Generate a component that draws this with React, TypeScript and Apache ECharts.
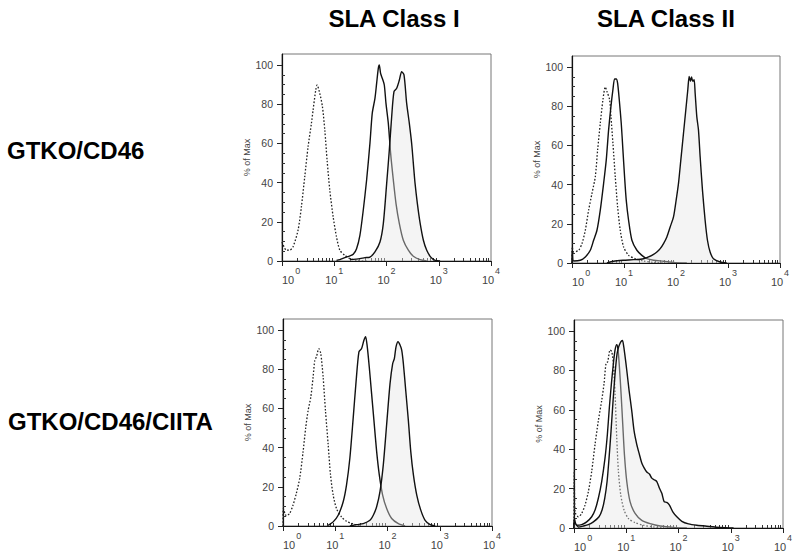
import React, { useEffect, useRef } from "react";
import * as echarts from "echarts";

// x values are decade exponents (log10 of fluorescence), y values are % of Max
const p1Dotted = [[0,9.7],[0.083,5.5],[0.147,5.5],[0.211,7.2],[0.307,15.7],[0.371,27.6],[0.435,42.9],[0.499,58.3],[0.563,70.2],[0.595,77.0],[0.646,87.2],[0.672,89.8],[0.723,85.5],[0.774,78.7],[0.819,66.8],[0.864,51.1],[0.915,36.1],[0.979,22.5],[1.043,12.3],[1.107,5.5],[1.203,2.9],[1.299,1.2],[1.427,0.3],[1.619,0]];
const p1Open = [[1.043,0.3],[1.107,0.7],[1.203,1.7],[1.299,2.6],[1.363,3.4],[1.427,6.3],[1.491,13.1],[1.555,25.9],[1.619,41.2],[1.683,60.0],[1.727,75.3],[1.779,83.0],[1.811,90.6],[1.843,98.3],[1.862,100],[1.887,95.7],[1.926,92.7],[1.958,89.8],[1.990,80.4],[2.035,70.2],[2.079,54.9],[2.131,41.2],[2.182,29.3],[2.246,19.1],[2.322,10.6],[2.418,5.5],[2.514,2.4],[2.642,0.7],[2.770,0]];
const p1Filled = [[1.299,0.7],[1.491,1.2],[1.587,1.7],[1.683,2.0],[1.779,4.6],[1.875,9.7],[1.939,19.1],[2.003,39.5],[2.054,56.6],[2.099,73.6],[2.143,86.4],[2.195,88.1],[2.246,92.3],[2.290,96.6],[2.335,94.9],[2.386,80.4],[2.437,70.2],[2.482,59.8],[2.514,49.7],[2.546,39.7],[2.591,29.3],[2.642,19.6],[2.706,10.6],[2.770,5.5],[2.847,2.0],[2.930,0.3],[3.026,0]];

const p2Dotted = [[0,0],[0.006,8.2],[0.032,5.6],[0.128,6.5],[0.192,9.9],[0.256,16.7],[0.320,27.0],[0.384,35.5],[0.448,44.0],[0.493,57.7],[0.544,71.3],[0.595,83.3],[0.640,89.8],[0.672,87.5],[0.723,83.3],[0.749,74.7],[0.787,61.1],[0.832,44.0],[0.877,28.7],[0.928,16.7],[0.992,8.2],[1.088,3.9],[1.216,2.2],[1.376,1.0],[1.568,0.3],[1.760,0]];
const p2Open = [[0,0],[0.006,6.5],[0.032,1.0],[0.160,1.4],[0.256,3.1],[0.352,6.5],[0.416,11.6],[0.480,16.7],[0.544,27.0],[0.608,40.6],[0.659,52.6],[0.704,67.9],[0.749,79.9],[0.787,88.4],[0.819,93.9],[0.851,93.9],[0.877,91.8],[0.909,83.3],[0.947,71.3],[0.979,57.7],[1.011,44.0],[1.043,32.1],[1.088,21.8],[1.152,11.6],[1.248,6.5],[1.344,3.9],[1.440,2.2],[1.568,1.4],[1.760,0.9],[1.952,0.3],[2.208,0]];
const p2Filled = [[0.672,0],[0.800,0.9],[0.992,1.4],[1.184,1.7],[1.376,2.2],[1.472,3.1],[1.568,4.4],[1.632,5.6],[1.696,7.3],[1.760,9.9],[1.824,13.3],[1.888,18.4],[1.952,23.5],[2.003,32.1],[2.048,40.6],[2.093,52.6],[2.144,66.2],[2.189,78.2],[2.227,88.4],[2.253,95.2],[2.278,92.7],[2.298,94.9],[2.323,92.7],[2.349,93.5],[2.368,86.7],[2.400,74.7],[2.432,67.9],[2.464,54.3],[2.509,37.2],[2.560,21.8],[2.605,11.6],[2.656,5.6],[2.720,2.2],[2.848,0.5],[2.976,0]];

const p3Dotted = [[0,0],[0.006,8.9],[0.064,5.2],[0.128,6.4],[0.192,10.7],[0.256,16.7],[0.320,24.4],[0.384,37.8],[0.435,50.2],[0.480,58.8],[0.531,65.6],[0.576,75.9],[0.608,84.5],[0.640,86.3],[0.685,90.5],[0.723,88.0],[0.768,75.9],[0.813,58.8],[0.864,41.6],[0.909,26.1],[0.960,15.8],[1.024,8.9],[1.120,4.6],[1.216,2.4],[1.344,1.0],[1.472,0]];
const p3Open = [[0.864,0.3],[0.960,2.1],[1.056,5.5],[1.152,12.4],[1.216,21.0],[1.280,34.7],[1.344,55.3],[1.395,72.5],[1.453,88.8],[1.504,90.5],[1.549,94.8],[1.581,96.6],[1.613,91.4],[1.651,81.1],[1.696,67.4],[1.741,53.6],[1.792,38.1],[1.843,26.1],[1.907,15.8],[1.984,8.9],[2.080,3.8],[2.208,1.2],[2.336,0]];
const p3Filled = [[1.280,0],[1.408,0.7],[1.536,1.2],[1.664,2.9],[1.728,5.5],[1.792,9.8],[1.856,17.5],[1.920,31.3],[1.984,51.9],[2.048,72.5],[2.099,82.8],[2.131,85.4],[2.163,91.4],[2.202,94.0],[2.240,92.3],[2.272,89.7],[2.304,82.8],[2.349,69.1],[2.400,53.6],[2.445,38.1],[2.496,26.1],[2.560,15.8],[2.637,8.1],[2.720,2.9],[2.816,0.7],[2.912,0]];

const p4Dotted = [[0,0],[0.006,28.8],[0.019,8.2],[0.083,5.7],[0.147,7.4],[0.211,11.6],[0.275,18.5],[0.339,28.8],[0.403,42.5],[0.466,54.5],[0.530,64.7],[0.575,73.3],[0.613,83.6],[0.645,84.4],[0.690,90.4],[0.722,89.6],[0.754,83.6],[0.786,68.2],[0.818,45.9],[0.850,28.8],[0.895,16.8],[0.958,9.1],[1.042,4.8],[1.169,2.7],[1.329,1.4],[1.521,0.5],[1.712,0]];
const p4Open = [[0,0],[0.006,4.8],[0.051,1.4],[0.147,1.7],[0.243,3.1],[0.339,5.7],[0.403,9.1],[0.466,15.1],[0.530,23.6],[0.594,35.6],[0.639,47.6],[0.677,61.3],[0.716,73.3],[0.754,83.6],[0.786,90.4],[0.818,93.0],[0.843,90.4],[0.869,81.8],[0.901,68.2],[0.933,52.7],[0.965,37.3],[1.010,23.6],[1.073,13.4],[1.169,7.4],[1.297,3.9],[1.457,2.2],[1.649,1.0],[1.904,0.3],[2.160,0]];
const p4Filled = [[0,0],[0.006,3.1],[0.083,0.5],[0.179,1.0],[0.275,1.7],[0.371,3.1],[0.479,5.7],[0.537,9.1],[0.588,15.1],[0.633,23.6],[0.671,35.6],[0.709,49.3],[0.748,64.7],[0.786,78.4],[0.825,88.7],[0.856,92.1],[0.882,93.8],[0.901,94.7],[0.927,95.2],[0.952,92.1],[0.978,87.0],[1.010,80.1],[1.054,69.9],[1.105,59.6],[1.150,49.3],[1.201,42.5],[1.252,37.3],[1.297,33.0],[1.342,30.5],[1.393,28.4],[1.444,27.4],[1.489,25.3],[1.534,24.5],[1.585,23.6],[1.636,20.2],[1.681,17.6],[1.725,13.4],[1.776,13.0],[1.827,11.6],[1.891,8.2],[1.968,5.7],[2.064,3.4],[2.192,2.1],[2.351,1.4],[2.543,0.9],[2.799,0.3],[3.054,0]];

const columnTitles = ["SLA Class I", "SLA Class II"];
const rowLabels = ["GTKO/CD46", "GTKO/CD46/CIITA"];
const yAxisName = "% of Max";
const xTickExps = [0, 1, 2, 3, 4];
const xMinorMultipliers = [2, 3, 4, 5, 6, 7, 8, 9];
const yTicks = [0, 20, 40, 60, 80, 100];
const yMinorTicks = [5, 10, 15, 25, 30, 35, 45, 50, 55, 65, 70, 75, 85, 90, 95];

const FONT = "'Liberation Sans', Arial, Helvetica, sans-serif";
const LABEL_COLOR = "#444";

const panelLayout = [
  { left: 282, top: 54, width: 209, height: 207 },
  { left: 572, top: 56, width: 208, height: 207 },
  { left: 283, top: 319, width: 209, height: 207 },
  { left: 574, top: 320, width: 209, height: 208 },
];
const panelData = [
  [p1Dotted, p1Open, p1Filled],
  [p2Dotted, p2Open, p2Filled],
  [p3Dotted, p3Open, p3Filled],
  [p4Dotted, p4Open, p4Filled],
];

export default function App() {
  const ref = useRef<HTMLDivElement>(null);
  useEffect(() => {
    if (!ref.current) return;
    const chart = echarts.init(ref.current, null, { renderer: "svg" });
    const xMinor: number[] = [];
    for (let d = 0; d < 4; d++) for (const m of xMinorMultipliers) xMinor.push(d + Math.log10(m));

    const grids: any[] = [];
    const xAxes: any[] = [];
    const yAxes: any[] = [];
    const series: any[] = [];
    panelLayout.forEach((g, i) => {
      grids.push({ ...g, show: true, borderColor: "#777", borderWidth: 1, containLabel: false });
      xAxes.push({
        type: "value", gridIndex: i, min: 0, max: 4, interval: 1,
        axisLine: { show: true, onZero: false, lineStyle: { color: "#111", width: 1.2 } },
        axisTick: { show: true, length: 5, lineStyle: { color: "#222" }, customValues: xTickExps },
        splitLine: { show: false },
        axisLabel: {
          customValues: xTickExps,
          alignMinLabel: "left",
          margin: 11,
          formatter: (v: number) => `{b|10}{s|${v}}`,
          rich: {
            b: { fontSize: 11, color: LABEL_COLOR, fontFamily: FONT, verticalAlign: "bottom", lineHeight: 13 },
            s: { fontSize: 9, color: LABEL_COLOR, fontFamily: FONT, verticalAlign: "bottom", padding: [0, 0, 10, 1], lineHeight: 10 },
          },
        },
      });
      xAxes.push({
        type: "value", gridIndex: i, min: 0, max: 4,
        axisLine: { show: false },
        axisTick: { show: true, length: 3, lineStyle: { color: "#333" }, customValues: xMinor },
        axisLabel: { show: false },
        splitLine: { show: false },
      });
      yAxes.push({
        type: "value", gridIndex: i, min: 0, max: 105.6, interval: 20,
        name: yAxisName, nameLocation: "middle", nameGap: 30,
        nameTextStyle: { fontSize: 9, color: "#444", fontFamily: FONT },
        axisLine: { show: true, lineStyle: { color: "#111", width: 1.2 } },
        axisTick: { show: true, length: 5, lineStyle: { color: "#222" }, customValues: yTicks },
        axisLabel: { customValues: yTicks, fontSize: 10.5, color: LABEL_COLOR, fontFamily: FONT, margin: 9 },
        splitLine: { show: false },
      });
      yAxes.push({
        type: "value", gridIndex: i, min: 0, max: 105.6,
        axisLine: { show: false },
        axisTick: { show: true, length: 3, lineStyle: { color: "#333" }, customValues: yMinorTicks },
        axisLabel: { show: false },
        splitLine: { show: false },
      });
      const [dotted, open, filled] = panelData[i];
      const base = { type: "line", xAxisIndex: i * 2, yAxisIndex: i * 2, symbol: "none", smooth: 0.25, silent: true };
      series.push({ ...base, data: dotted, lineStyle: { color: "#222", width: 1.3, type: [1.6, 1.8] }, z: 2 });
      series.push({ ...base, data: open, lineStyle: { color: "#111", width: 1.4 }, z: 3 });
      series.push({ ...base, data: filled, lineStyle: { color: "#111", width: 1.4 }, areaStyle: { color: "rgba(228,228,228,0.6)", origin: "start" }, z: 4 });
    });

    const textStyle = (text: string, x: number, y: number, align: string) => ({
      type: "text", x, y,
      style: { text, fill: "#000", font: `bold 24px ${FONT}`, textAlign: align, textVerticalAlign: "middle" },
    });

    chart.setOption({
      animation: false,
      backgroundColor: "#fff",
      grid: grids,
      xAxis: xAxes,
      yAxis: yAxes,
      series,
      graphic: [
        textStyle(columnTitles[0], 394, 18, "center"),
        textStyle(columnTitles[1], 666, 18, "center"),
        textStyle(rowLabels[0], 7, 150, "left"),
        textStyle(rowLabels[1], 8, 421, "left"),
      ],
    });
    return () => chart.dispose();
  }, []);
  return <div ref={ref} style={{ position: "fixed", left: 0, top: 0, width: 800, height: 558, background: "#fff" }} />;
}
